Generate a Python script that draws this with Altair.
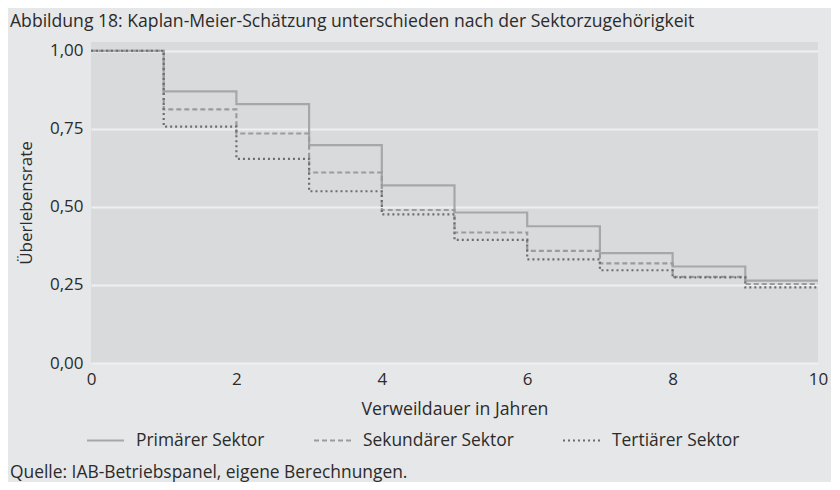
import altair as alt
import pandas as pd

years = [0, 1, 2, 3, 4, 5, 6, 7, 8, 9, 10]
primaer = [1.0, 0.870, 0.829, 0.698, 0.569, 0.482, 0.438, 0.352, 0.309, 0.264, 0.264]
sekundaer = [1.0, 0.812, 0.735, 0.610, 0.490, 0.418, 0.359, 0.319, 0.276, 0.253, 0.253]
tertiaer = [1.0, 0.757, 0.654, 0.550, 0.476, 0.394, 0.332, 0.297, 0.274, 0.242, 0.242]
series = ["Primärer Sektor", "Sekundärer Sektor", "Tertiärer Sektor"]
y_ticks = [0, 0.25, 0.5, 0.75, 1.0]
x_ticks = [0, 2, 4, 6, 8, 10]

TITLE = "Abbildung 18: Kaplan-Meier-Schätzung unterschieden nach der Sektorzugehörigkeit"
SOURCE = "Quelle: IAB-Betriebspanel, eigene Berechnungen."

rows = []
for name, vals in zip(series, [primaer, sekundaer, tertiaer]):
    for t, v in zip(years, vals):
        rows.append({"Jahr": t, "Rate": v, "Sektor": name})
df = pd.DataFrame(rows)

FONT = "Open Sans"
TXT = "#2b2b2b"

legend = alt.Legend(title=None, orient="none", legendX=-5, legendY=379,
                    direction="horizontal", symbolType="stroke",
                    symbolSize=1369, symbolStrokeWidth=2,
                    labelOffset=11, columnPadding=45,
                    labelFontSize=17.4, labelFont=FONT, labelColor=TXT)

lines = alt.Chart(df).mark_line(interpolate="step-after", strokeWidth=2.2).encode(
    x=alt.X("Jahr:Q", scale=alt.Scale(domain=[0, 10], nice=False),
            axis=alt.Axis(values=x_ticks, title="Verweildauer in Jahren", grid=False,
                          ticks=False, domain=False, labelPadding=8, titlePadding=13,
                          labelFlush=False, titleFontSize=17.7)),
    y=alt.Y("Rate:Q", scale=alt.Scale(domain=[0, 1.028], nice=False, zero=True),
            axis=alt.Axis(values=y_ticks, title="Überlebensrate", grid=True,
                          ticks=False, domain=False, labelPadding=8, titlePadding=14,
                          labelExpr="replace(format(datum.value, '.2f'), '.', ',')")),
    color=alt.Color("Sektor:N", scale=alt.Scale(domain=series,
                    range=["#a6a7a9", "#9a9b9d", "#6c6d6f"]), legend=legend),
    strokeDash=alt.StrokeDash("Sektor:N", scale=alt.Scale(domain=series,
                              range=[[1, 0], [5, 3], [2, 3]]), legend=legend),
)

source = alt.Chart(pd.DataFrame({"t": [SOURCE]})).mark_text(
    align="left", baseline="middle", fontSize=17.4, font=FONT, color=TXT
).encode(text="t:N", x=alt.value(-81), y=alt.value(431))

chart = alt.layer(lines, source).properties(
    width=727, height=321,
    padding={"left": 83, "top": 34, "right": 13, "bottom": 119},
    autosize=alt.AutoSizeParams(type="none"),
    background="#e6e7e8",
    title=alt.TitleParams(TITLE, anchor="start", frame="group", dx=-81, offset=11,
                          fontSize=17.6, font=FONT, fontWeight="normal", color=TXT),
).configure_view(fill="#d9dadc", stroke=None).configure_axis(
    labelFont=FONT, titleFont=FONT, labelFontSize=17, titleFontSize=17,
    labelColor=TXT, titleColor=TXT, titleFontWeight="normal",
    gridColor="#eeeff0", gridWidth=2
)

chart.save("out.html", embed_options={"renderer": "svg", "actions": False})
